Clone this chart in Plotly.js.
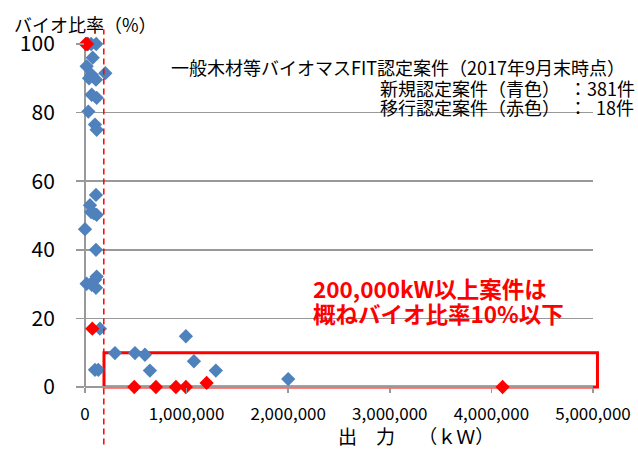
<!DOCTYPE html>
<html>
<head>
<meta charset="utf-8">
<script src="https://cdn.plot.ly/plotly-3.0.1.min.js"></script>
<style>html,body{margin:0;padding:0;background:#fff;}#chart{width:638px;height:450px;}</style>
</head>
<body>
<div id="chart"></div>
<script>
// 新規認定案件（青色）: output kW, bio ratio %
const newX = [30000, 60000, 110000, 76000, 16000, 66000, 108000, 200000, 40000,
  66000, 115000, 33000, 98000, 115000,
  108000, 49000, 88000, 115000, 60000, 0, 108000,
  115000, 98000, 16000, 66000, 108000, 147000, 98000, 131000,
  295000, 492000, 590000, 639000, 993000, 1072000, 1288000, 2000000];
const newY = [100, 100, 100, 96, 93.5, 91, 89.6, 91.5, 90,
  85.2, 84.3, 80.3, 76.5, 75,
  56, 53, 50.6, 50.2, 51, 46, 40,
  32.2, 31.3, 30.1, 29.8, 28.9, 17, 5, 5,
  9.9, 9.9, 9.4, 4.8, 14.8, 7.5, 4.8, 2.3];
// 移行認定案件（赤色）
const oldX = [7000, 20000, 72000, 485000, 698000, 895000, 993000, 1197000, 4110000];
const oldY = [100, 100, 17, 0, 0, 0, 0, 1.2, 0];

const xTicks = [0, 1000000, 2000000, 3000000, 4000000, 5000000];
const yTicks = [0, 20, 40, 60, 80, 100];

const font = "'Noto Sans CJK JP', 'Noto Sans', sans-serif";

const traces = [
  {x: newX, y: newY, type: 'scatter', mode: 'markers', cliponaxis: false,
   marker: {symbol: 'diamond', size: 11, color: '#4F81BD'}, hoverinfo: 'none'},
  {x: oldX, y: oldY, type: 'scatter', mode: 'markers', cliponaxis: false,
   marker: {symbol: 'diamond', size: 11, color: '#FF0000'}, hoverinfo: 'none'}
];

const layout = {
  width: 638, height: 450,
  margin: {l: 85, r: 45, t: 44, b: 63},
  paper_bgcolor: '#fff', plot_bgcolor: '#fff',
  showlegend: false,
  font: {family: font, color: '#000'},
  xaxis: {
    range: [0, 5000000], tickvals: xTicks, tickformat: ',d',
    showgrid: false, zeroline: true, zerolinecolor: '#999', zerolinewidth: 1.5,
    showline: false, ticks: 'outside', ticklen: 5, tickcolor: '#999', tickwidth: 1.5,
    tickfont: {size: 17, family: font}, ticklabelstandoff: 7
  },
  yaxis: {
    range: [0, 100], tickvals: yTicks,
    showgrid: true, gridcolor: '#999', gridwidth: 1.5,
    zeroline: true, zerolinecolor: '#999', zerolinewidth: 1.5,
    showline: false, ticks: 'outside', ticklen: 8, tickcolor: '#999', tickwidth: 1.5,
    tickfont: {size: 21, family: font}, ticklabelstandoff: 17
  },
  shapes: [
    {type: 'line', xref: 'x', yref: 'paper', x0: 185000, x1: 185000, y0: -0.168, y1: 1.042,
     line: {color: '#FF0000', width: 1.5, dash: '6px,4px'}, layer: 'above'},
    {type: 'rect', xref: 'paper', yref: 'paper', x0: 0.0374, x1: 1.0088, y0: 0, y1: 0.1,
     line: {color: '#FF0000', width: 3}, fillcolor: 'rgba(0,0,0,0)', layer: 'between'}
  ],
  annotations: [
    {xref: 'paper', yref: 'paper', x: -0.144, y: 1.059, xanchor: 'left', yanchor: 'middle',
     text: 'バイオ比率（%）', showarrow: false, font: {size: 18, color: '#000'}},
    {xref: 'paper', yref: 'paper', x: 0.652, y: -0.142, xanchor: 'center', yanchor: 'middle',
     text: '出　力　 （ｋＷ）', showarrow: false, font: {size: 19, color: '#000'}},
    {xref: 'paper', yref: 'paper', x: 0.165, y: 0.934, xanchor: 'left', yanchor: 'middle',
     text: '一般木材等バイオマスFIT認定案件（2017年9月末時点）', showarrow: false, font: {size: 18, color: '#000'}},
    {xref: 'paper', yref: 'paper', x: 0.577, y: 0.873, xanchor: 'left', yanchor: 'middle',
     text: '新規認定案件（青色）\u2002：381件', showarrow: false, font: {size: 18, color: '#000'}},
    {xref: 'paper', yref: 'paper', x: 0.577, y: 0.817, xanchor: 'left', yanchor: 'middle',
     text: '移行認定案件（赤色）\u2002：\u200218件', showarrow: false, font: {size: 18, color: '#000'}},
    {xref: 'paper', yref: 'paper', x: 0.445, y: 0.289, xanchor: 'left', yanchor: 'middle',
     text: '<b>200,000kW以上案件は</b>', showarrow: false, font: {size: 22.5, color: '#FF0000'}},
    {xref: 'paper', yref: 'paper', x: 0.445, y: 0.217, xanchor: 'left', yanchor: 'middle',
     text: '<b>概ねバイオ比率10%以下</b>', showarrow: false, font: {size: 22.5, color: '#FF0000'}}
  ]
};

Plotly.newPlot('chart', traces, layout, {staticPlot: true, displayModeBar: false});
</script>
</body>
</html>
